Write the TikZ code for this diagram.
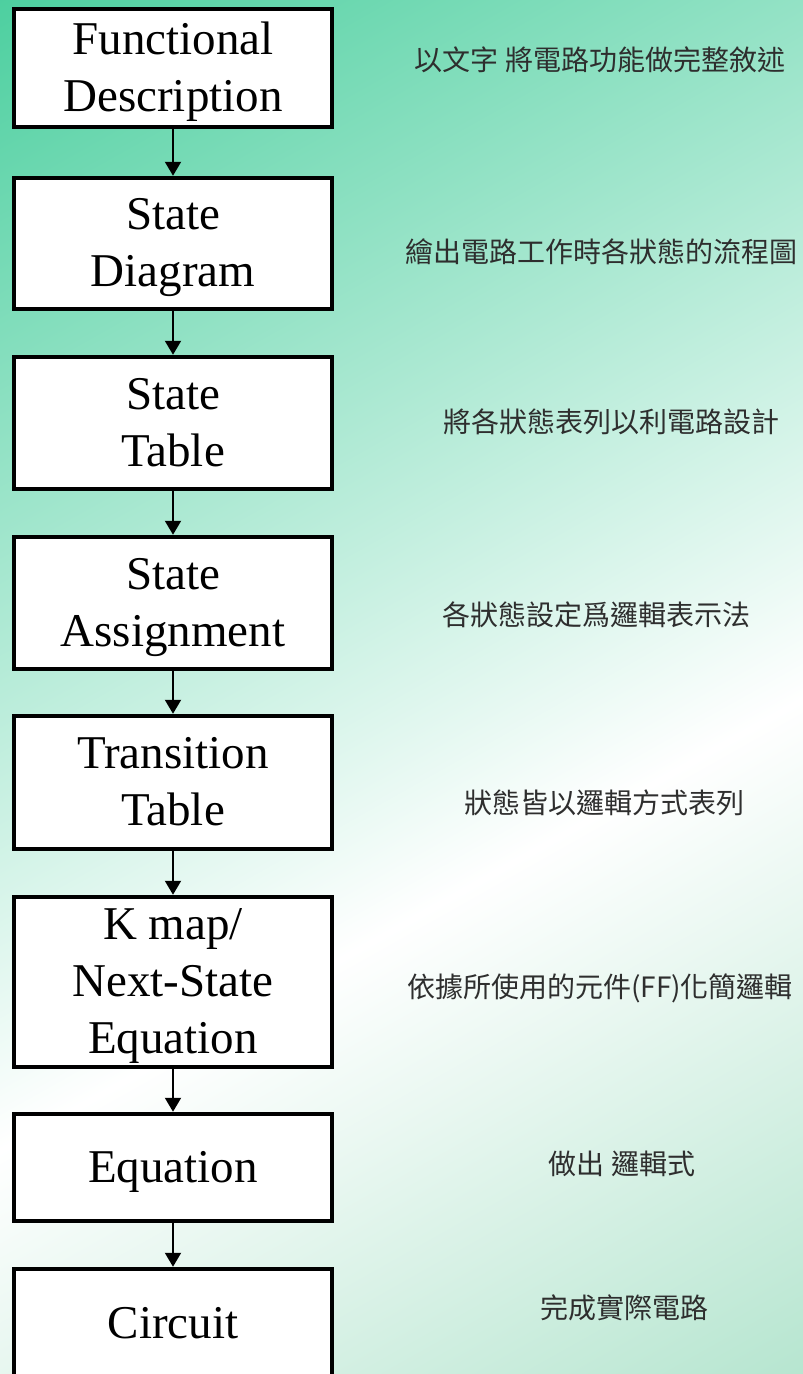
\documentclass[tikz,border=0pt]{standalone}
\usepackage{fontspec}
\setmainfont{Liberation Serif}
\newfontfamily\cjk{Noto Sans CJK TC}
\usetikzlibrary{arrows.meta}
\definecolor{bgdark}{HTML}{4CCF9F}
\definecolor{bglight}{HTML}{B5E5CF}
\newcommand\hstr{\rule{0pt}{40pt}}
\newcommand\dstr{\rule[-11pt]{0pt}{0pt}}
\begin{document}
\begin{tikzpicture}[x=1pt,y=1pt,
  stepbox/.style={draw=black, line width=4.5pt, fill=white, minimum width=318pt,
    inner sep=0pt, align=center, font=\fontsize{47}{57}\selectfont},
  note/.style={font=\cjk\fontsize{28}{34}\selectfont, text=black!82, inner sep=0pt},
  flow/.style={line width=2pt, -{Triangle[width=16pt,length=14pt]}}]
\useasboundingbox (0,0) rectangle (803,-1374);
\begin{scope}
  \clip (0,0) rectangle (803,-1374);
  \begin{scope}[transform canvas={shift={(0,-1150)}, rotate=-60.64}]
    \shade[left color=bgdark, right color=white] (-1010,-300) rectangle (0.5,1400);
    \shade[left color=white, right color=bglight] (0,-300) rectangle (600,1400);
  \end{scope}
\end{scope}

\node[stepbox, minimum height=118pt] (b1) at (173,-68) {\hstr Functional\\Description\dstr};
\node[stepbox, minimum height=131pt] (b2) at (173,-243.5) {\hstr State\\Diagram\dstr};
\node[stepbox, minimum height=132pt] (b3) at (173,-423) {\hstr State\\Table\dstr};
\node[stepbox, minimum height=132pt] (b4) at (173,-603) {\hstr State\\Assignment\dstr};
\node[stepbox, minimum height=133pt] (b5) at (173,-782.5) {\hstr Transition\\Table\dstr};
\node[stepbox, minimum height=170pt] (b6) at (173,-982) {\hstr K map/\\Next-State\\Equation\dstr};
\node[stepbox, minimum height=107pt] (b7) at (173,-1167.5) {\hstr Equation\dstr};
\node[stepbox, minimum height=109pt] (b8) at (173,-1323.5) {\hstr Circuit\dstr};

\draw[flow] (b1) -- (b2);
\draw[flow] (b2) -- (b3);
\draw[flow] (b3) -- (b4);
\draw[flow] (b4) -- (b5);
\draw[flow] (b5) -- (b6);
\draw[flow] (b6) -- (b7);
\draw[flow] (b7) -- (b8);

\node[note] (d1) at (600,-60) {以文字 將電路功能做完整敘述};
\node[note] (d2) at (601,-252) {繪出電路工作時各狀態的流程圖};
\node[note] (d3) at (611.5,-422) {將各狀態表列以利電路設計};
\node[note] (d4) at (596,-615) {各狀態設定爲邏輯表示法};
\node[note] (d5) at (604,-803) {狀態皆以邏輯方式表列};
\node[note] (d6) at (600,-988) {依據所使用的元件(FF)化簡邏輯};
\node[note] (d7) at (622,-1164) {做出 邏輯式};
\node[note] (d8) at (624,-1308) {完成實際電路};
\end{tikzpicture}
\end{document}
